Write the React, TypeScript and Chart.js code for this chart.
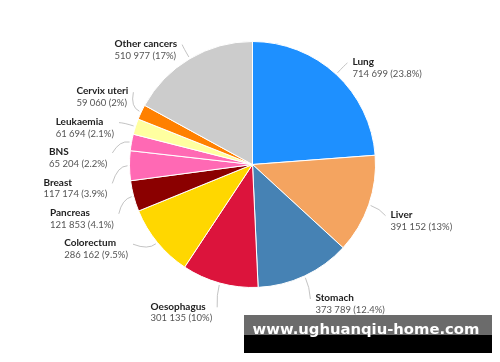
import React, { useEffect, useRef } from "react";
import { Chart, registerables } from "chart.js";

Chart.register(...registerables);

const categories = [
  "Lung",
  "Liver",
  "Stomach",
  "Oesophagus",
  "Colorectum",
  "Pancreas",
  "Breast",
  "BNS",
  "Leukaemia",
  "Cervix uteri",
  "Other cancers",
];
const cases = [714699, 391152, 373789, 301135, 286162, 121853, 117174, 65204, 61694, 59060, 510977];
const shareLabels = ["23.8%", "13%", "12.4%", "10%", "9.5%", "4.1%", "3.9%", "2.2%", "2.1%", "2%", "17%"];
const sliceColors = [
  "#1E90FF",
  "#F4A460",
  "#4682B4",
  "#DC143C",
  "#FFD700",
  "#8B0000",
  "#FF69B4",
  "#FF69B4",
  "#FFFFA0",
  "#FF8000",
  "#CCCCCC",
];
const watermarkText = "www.ughuanqiu-home.com";

const fmt = (v: number) => String(v).replace(/\B(?=(\d{3})+(?!\d))/g, " ");

const LABEL_GAP = 21;
const LABEL_DY = 9;
const LABEL_SPACING = 30.4;
const MERGE_SLACK = 25;
const NAME_FONT = "bold 10px Lato";
const VALUE_FONT = "9.5px Lato";

// distribute sorted anchor positions so neighbours in a crowded group sit evenly spaced
function spread(ys: number[], s: number, slack: number): number[] {
  const blocks: { n: number; sum: number }[] = [];
  ys.forEach((y) => {
    blocks.push({ n: 1, sum: y });
    while (blocks.length > 1) {
      const cur = blocks[blocks.length - 1];
      const prev = blocks[blocks.length - 2];
      const ps = prev.sum / prev.n;
      const cs = cur.sum / cur.n;
      const extra = prev.n > 1 ? slack : 0;
      if (cs < ps + prev.n * s + extra) {
        const merged = { n: prev.n + cur.n, sum: prev.sum + cur.sum - cur.n * prev.n * s };
        blocks.pop();
        blocks.pop();
        blocks.push(merged);
      } else break;
    }
  });
  const out: number[] = [];
  blocks.forEach((b) => {
    const st = b.sum / b.n;
    for (let i = 0; i < b.n; i++) out.push(st + i * s);
  });
  return out;
}

const labelPlugin = {
  id: "outLabels",
  afterDatasetsDraw(chart: any) {
    const ctx = chart.ctx as CanvasRenderingContext2D;
    const meta = chart.getDatasetMeta(0);
    const items = meta.data.map((arc: any, i: number) => {
      const p = arc.getProps(["x", "y", "startAngle", "endAngle", "outerRadius"], true);
      const mid = (p.startAngle + p.endAngle) / 2;
      const dx = Math.cos(mid);
      const dy = Math.sin(mid);
      const R = p.outerRadius + LABEL_GAP;
      return { i, cx: p.x, cy: p.y, r: p.outerRadius, dx, dy, R, ay: p.y + dy * R, ax: 0, side: dx >= 0 ? 1 : -1 };
    });
    [1, -1].forEach((side) => {
      const grp = items.filter((it: any) => it.side === side).sort((a: any, b: any) => a.ay - b.ay);
      const ys = spread(
        grp.map((g: any) => g.ay),
        LABEL_SPACING,
        MERGE_SLACK
      );
      grp.forEach((g: any, k: number) => {
        g.ay = ys[k];
      });
    });
    ctx.save();
    items.forEach((it: any) => {
      const h = Math.max(-it.R * 0.98, Math.min(it.R * 0.98, it.ay - it.cy));
      it.ax = it.cx + it.side * Math.sqrt(it.R * it.R - h * h);
      const centerY = it.ay + LABEL_DY;
      const name = categories[it.i];
      const value = `${fmt(cases[it.i])} (${shareLabels[it.i]})`;
      ctx.font = NAME_FONT;
      const w1 = ctx.measureText(name).width;
      ctx.font = VALUE_FONT;
      const w2 = ctx.measureText(value).width;
      const w = Math.max(w1, w2);
      const left = it.side > 0 ? it.ax + 2 : it.ax - 2 - w;

      // leader line
      const p0x = it.cx + it.dx * (it.r + 2);
      const p0y = it.cy + it.dy * (it.r + 2);
      const c1x = it.cx + it.dx * (it.r + 12);
      const c1y = it.cy + it.dy * (it.r + 12);
      const ex = it.ax - it.side * 3;
      const ey = centerY - 5;
      ctx.beginPath();
      ctx.moveTo(p0x, p0y);
      ctx.quadraticCurveTo(c1x, c1y, ex, ey);
      ctx.strokeStyle = "#b4b4b4";
      ctx.lineWidth = 0.8;
      ctx.stroke();

      ctx.textAlign = "left";
      ctx.textBaseline = "middle";
      ctx.font = NAME_FONT;
      ctx.fillStyle = "#222222";
      ctx.fillText(name, left, centerY - 6);
      ctx.font = VALUE_FONT;
      ctx.fillStyle = "#555555";
      ctx.fillText(value, left, centerY + 6);
    });
    ctx.restore();
  },
  afterDraw(chart: any) {
    const ctx = chart.ctx as CanvasRenderingContext2D;
    ctx.save();
    ctx.fillStyle = "#6b6b6b";
    ctx.fillRect(244, 315, 248, 20);
    ctx.fillStyle = "#000000";
    ctx.fillRect(244, 335, 248, 18);
    ctx.fillStyle = "#ffffff";
    ctx.font = "bold 14.8px 'DejaVu Sans'";
    ctx.textAlign = "center";
    ctx.textBaseline = "alphabetic";
    ctx.fillText(watermarkText, 366, 334);
    ctx.restore();
  },
};

export default function App() {
  const ref = useRef<HTMLCanvasElement | null>(null);
  useEffect(() => {
    if (!ref.current) return;
    const chart = new Chart(ref.current, {
      type: "pie",
      data: {
        labels: categories,
        datasets: [
          {
            data: cases,
            backgroundColor: sliceColors,
            borderColor: "#ffffff",
            borderWidth: 1,
          },
        ],
      },
      options: {
        animation: false,
        responsive: false,
        layout: { padding: { top: 40, bottom: 73, left: 129, right: 124 } },
        plugins: {
          legend: { display: false },
          tooltip: { enabled: false },
        },
      },
      plugins: [labelPlugin],
    } as any);
    return () => chart.destroy();
  }, []);
  return (
    <div style={{ position: "absolute", left: 0, top: 0, width: 500, height: 362, background: "#fff" }}>
      <canvas ref={ref} width={500} height={362} style={{ display: "block" }} />
    </div>
  );
}
